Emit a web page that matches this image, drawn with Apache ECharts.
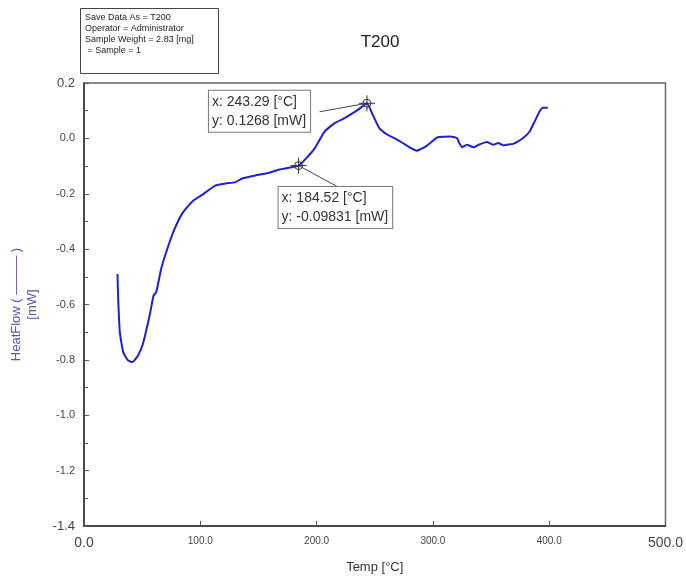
<!DOCTYPE html>
<html>
<head>
<meta charset="utf-8">
<script src="https://cdn.jsdelivr.net/npm/echarts@6/dist/echarts.min.js"></script>
<style>
html,body{margin:0;padding:0;background:#fff;}
#main{width:686px;height:579px;}
</style>
</head>
<body>
<div id="main"></div>
<script>
var myChart = echarts.init(document.getElementById('main'));

// 温度 (°C)
var temps = [28.8, 29.4, 30.8, 33.7, 37.9, 41.6, 46.5, 50.7, 56.4, 59.8, 62.1, 66.3, 70.6, 77.7, 84.8, 93.4,
	101.9, 113.2, 121.7, 130.3, 136, 147.3, 158.7, 167.3, 178.6, 184.52, 190, 198.5, 207, 215.5, 224, 235.5,
	243.29, 248.3, 253.9, 261, 269.6, 276, 281, 286, 290, 294, 299, 304, 310, 315, 320.7, 322.5, 325, 329.2,
	334.9, 340, 346.3, 351.9, 356.2, 360.4, 365, 369, 373.2, 377.5, 383.2, 387.5, 391.7, 394.6, 398.8];
// 热流 (mW)
var heat = [-0.490, -0.580, -0.700, -0.772, -0.802, -0.808, -0.784, -0.742, -0.640, -0.568, -0.556, -0.472, -0.412, -0.329, -0.269, -0.227,
	-0.203, -0.170, -0.163, -0.158, -0.145, -0.134, -0.125, -0.113, -0.104, -0.09831, -0.077, -0.035, 0.025, 0.055, 0.073, 0.103,
	0.1268, 0.085, 0.037, 0.013, -0.005, -0.022, -0.035, -0.045, -0.038, -0.029, -0.012, 0.004, 0.006, 0.007, 0.001, -0.015, -0.032, -0.023,
	-0.032, -0.022, -0.013, -0.023, -0.017, -0.025, -0.022, -0.020, -0.011, 0.001, 0.025, 0.061, 0.097, 0.111, 0.111];

// 标注点
var markA = [243.29, 0.1268];
var markB = [184.52, -0.09831];
// 引线终点 (数据坐标)
var leadA = [202.5, 0.096];
var leadB = [219.5, -0.178];

var infoLines = ['Save Data As = T200', 'Operator = Administrator', 'Sample Weight = 2.83 [mg]', ' = Sample = 1'];

var xMin = 0, xMax = 500, yMin = -1.4, yMax = 0.2;

var pts = [];
for (var i = 0; i < temps.length; i++) {
	pts.push([temps[i], heat[i]]);
}

var cross = 'path://M0,-10L0,10M-10,0L10,0M5,0A5,5 0 1 1 -5,0A5,5 0 1 1 5,0';
var font = 'Liberation Sans, Arial, sans-serif';

myChart.setOption({
	animation: false,
	backgroundColor: '#fff',
	title: {
		text: 'T200',
		left: 375,
		top: 29,
		textAlign: 'center',
		textStyle: {fontSize: 17, fontWeight: 'normal', color: '#222', fontFamily: font}
	},
	grid: {
		left: 80.5,
		right: 19,
		top: 83,
		bottom: 51,
		show: true,
		borderColor: '#666',
		borderWidth: 1.5
	},
	xAxis: {
		type: 'value',
		min: xMin,
		max: xMax,
		interval: 100,
		name: 'Temp [°C]',
		nameLocation: 'middle',
		nameGap: 35,
		nameTextStyle: {fontSize: 13, color: '#333', fontFamily: font},
		axisLine: {onZero: false, lineStyle: {color: '#333', width: 1.5}},
		axisTick: {inside: true, length: 5, lineStyle: {color: '#555'}},
		splitLine: {show: false},
		axisLabel: {
			margin: 10,
			color: '#444',
			fontFamily: font,
			fontSize: 10,
			formatter: function (v) {
				if (v === xMin || v === xMax) return '{big|' + v.toFixed(1) + '}';
				return v.toFixed(1);
			},
			rich: {big: {fontSize: 14, color: '#444', fontFamily: font}}
		}
	},
	yAxis: {
		type: 'value',
		min: yMin,
		max: yMax,
		interval: 0.2,
		name: 'HeatFlow ( ——— )\n[mW]',
		nameLocation: 'middle',
		nameGap: 44,
		nameRotate: 90,
		nameTextStyle: {fontSize: 13, color: '#5555b5', fontFamily: font, lineHeight: 16},
		axisLine: {onZero: false, lineStyle: {color: '#333', width: 1.5}},
		axisTick: {inside: true, length: 5, lineStyle: {color: '#555'}},
		minorTick: {show: true, splitNumber: 2, length: 4, lineStyle: {color: '#555'}},
		splitLine: {show: false},
		axisLabel: {
			margin: 9,
			color: '#444',
			fontFamily: font,
			fontSize: 11,
			formatter: function (v) {
				var s = (Math.round(v * 10) / 10).toFixed(1);
				if (Math.abs(v - yMin) < 1e-6 || Math.abs(v - yMax) < 1e-6) return '{big|' + s + '}';
				return s;
			},
			rich: {big: {fontSize: 13, color: '#444', fontFamily: font}}
		}
	},
	graphic: [
		{
			type: 'rect',
			left: 80,
			top: 8,
			shape: {width: 138, height: 65},
			style: {fill: '#fff', stroke: '#444', lineWidth: 1}
		},
		{
			type: 'text',
			left: 85,
			top: 12,
			style: {
				text: infoLines.join('\n'),
				fontSize: 9,
				lineHeight: 11,
				fill: '#222',
				fontFamily: font
			}
		}
	],
	series: [
		{
			type: 'line',
			data: pts,
			showSymbol: false,
			smooth: 0.15,
			lineStyle: {color: '#1f1fd6', width: 2},
			markLine: {
				silent: true,
				symbol: 'none',
				label: {show: false},
				lineStyle: {color: '#444', width: 1, type: 'solid'},
				data: [
					[{coord: markA}, {coord: leadA}],
					[{coord: markB}, {coord: leadB}]
				]
			},
			markPoint: {
				silent: true,
				symbol: cross,
				symbolSize: 16,
				itemStyle: {color: 'rgba(0,0,0,0)', borderColor: '#333', borderWidth: 1},
				label: {
					show: true,
					position: 'inside',
					align: 'left',
					verticalAlign: 'middle',
					color: '#333',
					fontSize: 14,
					lineHeight: 19,
					fontFamily: font,
					backgroundColor: '#fff',
					borderColor: '#777',
					borderWidth: 1,
					padding: [2, 4, 1, 3]
				},
				data: [
					{
						coord: markA,
						label: {offset: [-158, 8], formatter: 'x: ' + markA[0].toFixed(2) + ' [°C]\ny: ' + markA[1] + ' [mW]'}
					},
					{
						coord: markB,
						label: {offset: [-20, 42], formatter: 'x: ' + markB[0].toFixed(2) + ' [°C]\ny: ' + markB[1] + ' [mW]'}
					}
				]
			}
		}
	]
});
</script>
</body>
</html>
